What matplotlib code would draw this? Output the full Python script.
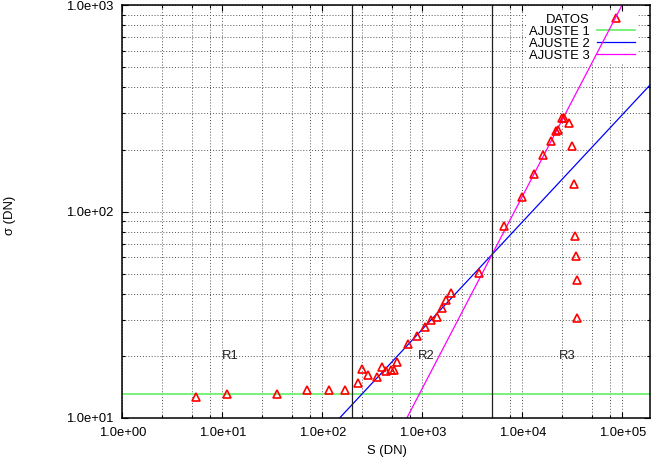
import numpy as np
import matplotlib
matplotlib.use("Agg")
import matplotlib.pyplot as plt
from matplotlib.ticker import LogLocator, FuncFormatter, NullFormatter

plt.rcParams['font.family'] = ['Liberation Sans', 'DejaVu Sans']

# ---- data ----
S_data = [5.5, 11.2, 35.4, 70.3, 117, 169, 225, 250, 286, 352, 391, 434, 481, 521, 552,
          711, 885, 1064, 1230, 1403, 1585, 1734, 1923, 3648, 6607, 9863, 13000, 16218,
          19364, 21727, 22594, 24774, 26122, 29107, 31189, 32659, 33651, 34674, 35237, 35481]
sigma_data = [12.6, 13.1, 13.1, 13.6, 13.6, 13.6, 14.7, 17.3, 16.1, 15.8, 17.7, 16.9, 17.1, 17.1, 18.7,
              22.8, 24.9, 27.5, 29.8, 30.8, 34.3, 37.2, 40.5, 50.7, 85.1, 117.2, 152, 189,
              220, 245.5, 250, 284.5, 284.5, 269, 207.5, 136.5, 76.4, 60.8, 46.8, 30.6]

# fit parameters (log10 sigma = log10 A + B*log10 S)
fit1_level = 13.1
fit2_logA, fit2_B = -0.130, 0.52
fit3_logA, fit3_B = -1.646, 0.93

region_limits = [200, 5000]
region_labels = ['R1', 'R2', 'R3']
region_label_x = [12, 1100, 28000]
region_label_y = 20

legend_labels = ['DATOS', 'AJUSTE 1', 'AJUSTE 2', 'AJUSTE 3']

W, H = 653, 466
fig = plt.figure(figsize=(W / 100, H / 100), dpi=100)
L, R, T, B = 122.3, 650, 5.3, 418
ax = fig.add_axes([L / W, 1 - B / H, (R - L) / W, (B - T) / H])

xmin, xmax = 1.0, 1.89e5
ymin, ymax = 10, 1000
ax.set_xscale('log')
ax.set_yscale('log')
ax.set_xlim(xmin, xmax)
ax.set_ylim(ymin, ymax)

FS = 9.4

xs = np.logspace(np.log10(xmin), np.log10(xmax), 400)
l1, = ax.plot(xs, np.full_like(xs, fit1_level), color='#70f070', lw=1.3, zorder=2)
l2, = ax.plot(xs, 10 ** (fit2_logA + fit2_B * np.log10(xs)), color='#0000ff', lw=0.9, zorder=2)
l3, = ax.plot(xs, 10 ** (fit3_logA + fit3_B * np.log10(xs)), color='#ff00ff', lw=0.9, zorder=2)
pts, = ax.plot(S_data, sigma_data, linestyle='none', marker='^', ms=5.3,
               mfc='none', mec='#ff0000', mew=1.2, zorder=3)

for xv in region_limits:
    ax.axvline(xv, color='#202020', lw=0.9, zorder=2)
for lab, xv in zip(region_labels, region_label_x):
    ax.text(xv, region_label_y, lab, ha='center', va='center', fontsize=FS, color='#222222')

# ticks
ax.xaxis.set_major_locator(LogLocator(base=10, numticks=20))
ax.xaxis.set_minor_locator(LogLocator(base=10, subs=[2.5, 5.0, 7.5], numticks=20))
ax.yaxis.set_major_locator(LogLocator(base=10, numticks=20))
ax.yaxis.set_minor_locator(LogLocator(base=10, subs=np.arange(2, 10), numticks=20))
fmt = FuncFormatter(lambda v, p: f"{v:.1e}")
ax.xaxis.set_major_formatter(fmt)
ax.yaxis.set_major_formatter(fmt)
ax.xaxis.set_minor_formatter(NullFormatter())
ax.yaxis.set_minor_formatter(NullFormatter())
ax.tick_params(which='both', direction='in', top=True, right=True, labelsize=FS, pad=6.3,
               colors='black', width=0.8)
ax.tick_params(which='major', length=4.3)
ax.tick_params(which='minor', length=2.2)

ax.set_axisbelow(True)
ax.grid(True, which='both', color='#555555', linestyle=(0, (1, 2)), lw=0.7)
for sp in ax.spines.values():
    sp.set_linewidth(1.1)

fig.text(387 / W, 1 - 450.7 / H, 'S (DN)', ha='center', va='center', fontsize=FS)
fig.text(10 / W, 1 - 215 / H, 'σ (DN)', ha='center', va='center', rotation=90, fontsize=FS)

leg = ax.legend([pts, l1, l2, l3], legend_labels, loc='upper right',
                bbox_to_anchor=(637 / W, 1 - 11.5 / H), bbox_transform=fig.transFigure,
                markerfirst=False, frameon=True, fancybox=False, edgecolor='none',
                facecolor='white', framealpha=1, fontsize=FS, handlelength=2.9,
                handletextpad=0.6, labelspacing=0.0, borderpad=0.15, borderaxespad=0)
leg.set_zorder(1.5)

fig.savefig('out.png', dpi=100)
